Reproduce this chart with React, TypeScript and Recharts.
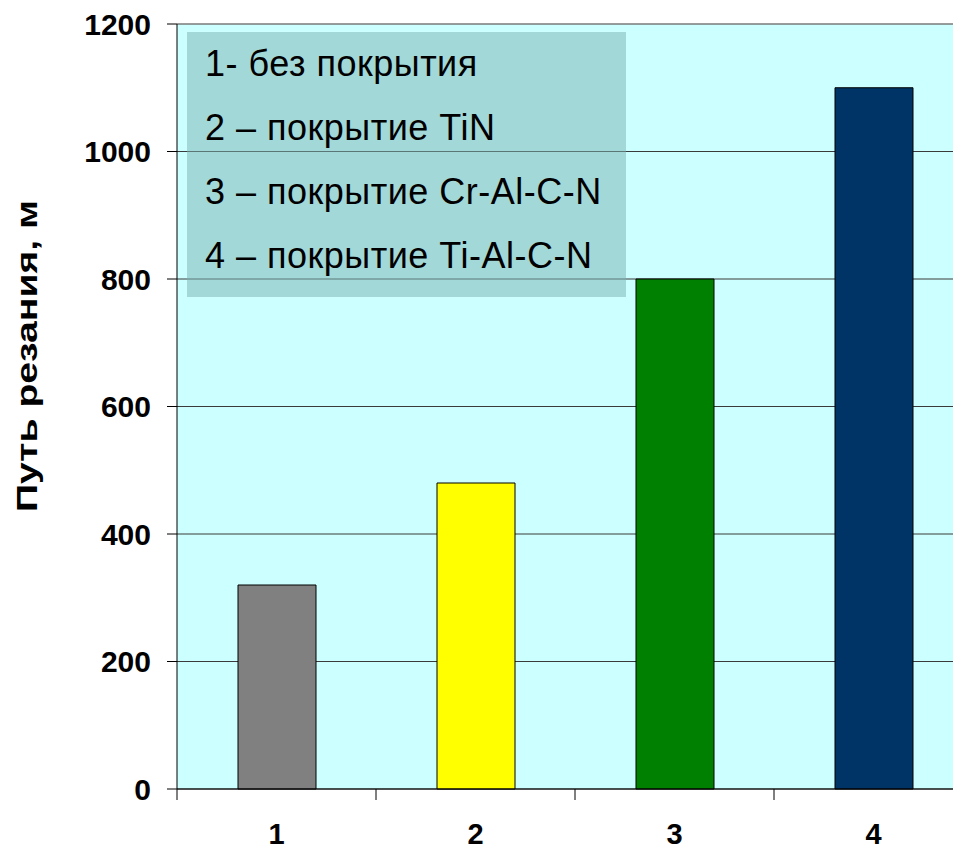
import React from "react";
import {
  BarChart,
  Bar,
  XAxis,
  YAxis,
  CartesianGrid,
  ReferenceLine,
  Cell,
} from "recharts";

const categories = ["1", "2", "3", "4"];
const values = [320, 480, 800, 1100];
const barColors = ["#808080", "#ffff00", "#008000", "#003366"];
const yTicks = [0, 200, 400, 600, 800, 1000, 1200];
const legendLines = [
  "1- без покрытия",
  "2 – покрытие TiN",
  "3 – покрытие Cr-Al-C-N",
  "4 – покрытие Ti-Al-C-N",
];
const yAxisTitle = "Путь резания, м";

const data = categories.map((c, i) => ({ name: c, value: values[i] }));

const FONT = "'Liberation Sans', Arial, sans-serif";

const XTick = (props: any) => {
  const { x, y, payload, width, visibleTicksCount, index } = props;
  const n = visibleTicksCount || categories.length;
  const bw = width / n;
  const left = x - bw / 2;
  const right = x + bw / 2;
  return (
    <g>
      <line x1={left} x2={left} y1={y} y2={y + 11} stroke="#000" strokeWidth={1} />
      {index === n - 1 && (
        <line x1={right} x2={right} y1={y} y2={y + 11} stroke="#000" strokeWidth={1} />
      )}
      <text
        x={x}
        y={y + 55}
        textAnchor="middle"
        fontFamily={FONT}
        fontWeight="bold"
        fontSize={29}
        fill="#000"
      >
        {payload.value}
      </text>
    </g>
  );
};

const YTitle = () => (
  <text
    x={29}
    y={348}
    transform="rotate(-90, 29, 348)"
    textAnchor="middle"
    fontFamily={FONT}
    fontWeight="bold"
    fontSize={29}
    textLength={312}
    lengthAdjust="spacingAndGlyphs"
    fill="#000"
  >
    {yAxisTitle}
  </text>
);

export default function App() {
  return (
    <div style={{ position: "relative", width: 953, height: 841, overflow: "hidden" }}>
      <BarChart
        width={965}
        height={841}
        data={data}
        margin={{ top: 16, right: 0, bottom: 0, left: 0 }}
      >
        <CartesianGrid vertical={false} fill="#ccffff" stroke="#3a3a3a" />
        <XAxis
          dataKey="name"
          interval={0}
          height={60}
          tickSize={0}
          tickMargin={0}
          tickLine={false}
          axisLine={{ stroke: "#000" }}
          tick={<XTick />}
        />
        <YAxis
          domain={[0, 1200]}
          ticks={yTicks}
          interval={0}
          width={169}
          tickSize={10}
          tickMargin={16}
          axisLine={{ stroke: "#000" }}
          tickLine={{ stroke: "#000" }}
          tick={{ fill: "#000", fontSize: 30, fontWeight: "bold", fontFamily: FONT }}
          label={{ content: <YTitle /> }}
        />
        <ReferenceLine y={1200} stroke="#999999" />
        <Bar
          dataKey="value"
          barSize={78}
          stroke="#000"
          strokeWidth={1}
          isAnimationActive={false}
        >
          {data.map((d, i) => (
            <Cell key={d.name} fill={barColors[i]} />
          ))}
        </Bar>
      </BarChart>
      <div
        style={{
          position: "absolute",
          left: 179,
          top: 24,
          width: 439,
          height: 265,
          background: "rgba(122,177,177,0.5)",
          boxSizing: "border-box",
          paddingLeft: 18,
          fontFamily: FONT,
          fontSize: 36,
          letterSpacing: "0.5px",
          lineHeight: "64px",
          color: "#000",
          whiteSpace: "nowrap",
        }}
      >
        {legendLines.map((l) => (
          <div key={l}>{l}</div>
        ))}
      </div>
    </div>
  );
}
